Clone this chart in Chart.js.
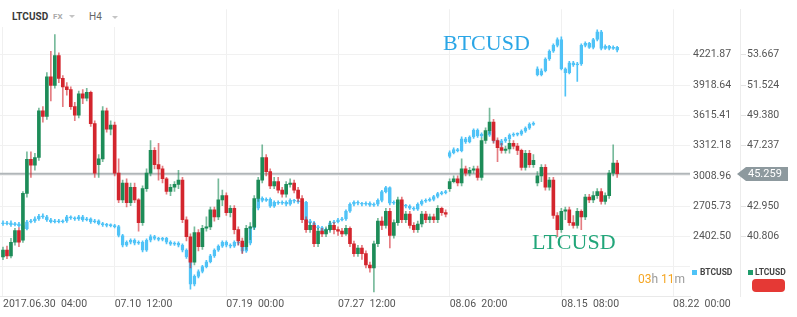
<!DOCTYPE html>
<html>
<head>
<meta charset="utf-8">
<script src="https://cdn.jsdelivr.net/npm/chart.js@4.4.1/dist/chart.umd.min.js"></script>
<style>
  html, body { margin: 0; padding: 0; background: #fff; }
  #wrap { position: relative; width: 797px; height: 317px; overflow: hidden; font-family: Roboto, sans-serif; }
  canvas { position: absolute; left: 0; top: 0; }
  .abs { position: absolute; white-space: nowrap; }
  .tri { position: absolute; width: 0; height: 0; border-left: 3px solid transparent; border-right: 3px solid transparent; border-top: 3px solid #c4c4c4; }
  .big { font-family: "Liberation Serif", serif; font-size: 22px; line-height: 22px; }
  .leg { font: bold 8.5px/10px Roboto; color: #444; }
  .sq { position: absolute; width: 5px; height: 5px; }
</style>
</head>
<body>
<div id="wrap">
  <canvas id="chart" width="797" height="317"></canvas>

  <div class="abs" style="left:0;top:0;width:130px;height:27px;background:#fff"></div>
  <div class="abs" style="left:12px;top:10px;font:bold 10px/13px Roboto;color:#3a3a3a">LTCUSD</div>
  <div class="abs" style="left:53px;top:11px;font:bold 8px/12px Roboto;color:#aaa">FX</div>
  <div class="tri" style="left:69px;top:15px"></div>
  <div class="abs" style="left:89px;top:10px;font:10px/13px Roboto;color:#666">H4</div>
  <div class="tri" style="left:112px;top:16px"></div>

  <div class="abs big" style="left:443px;top:32px;color:#2ba6e6">BTCUSD</div>
  <div class="abs big" style="left:532px;top:231px;color:#22a67a">LTCUSD</div>

  <div class="abs" style="left:638px;top:272px;font:12px/14px Roboto;color:#9a9a9a"><span style="color:#f5a623">03</span>h <span style="color:#f5a623">11</span>m</div>

  <div class="sq" style="left:692px;top:270px;background:#4fc3f7"></div>
  <div class="abs leg" style="left:700px;top:267px">BTCUSD</div>
  <div class="sq" style="left:748px;top:270px;background:#1f9d6c"></div>
  <div class="abs leg" style="left:755px;top:267px">LTCUSD</div>
  <div class="abs" style="left:752px;top:279px;width:33px;height:13px;border-radius:4px;background:#e53935"></div>
</div>

<script>
// x axis: candle index, tick labels every 28 candles
const xTickIdx = [0, 28, 56, 84, 112, 140, 168];
const xLabels = ['2017.06.30  04:00', '07.10  12:00', '07.19  00:00', '07.27  12:00', '08.06  20:00', '08.15  08:00', '08.22  00:00'];

const btcTicks = [2402.50, 2705.73, 3008.96, 3312.18, 3615.41, 3918.64, 4221.87];
const btcGridOnly = [2099.27];
const ltcTicks = [40.806, 42.950, 45.094, 47.237, 49.380, 51.524, 53.667];

// LTCUSD H4 candles
const ltcOpen = [
  39.38, 39.86, 39.45, 40.41, 41.24, 40.55, 43.86, 46.27, 45.85, 46.4,
  49.7, 49.3, 52.1, 51.5, 53.6, 52.0, 51.4, 51.2, 50.0, 49.4,
  50.9, 50.6, 51.0, 48.8, 45.9, 46.3, 49.7, 48.4, 48.7, 45.3,
  43.4, 44.6, 43.2, 44.3, 43.4, 41.8, 44.2, 45.3, 46.9, 45.9,
  45.6, 44.9, 44.0, 44.3, 44.5, 44.8, 42.0, 40.8, 39.0, 41.1,
  40.1, 41.4, 41.5, 42.7, 42.2, 43.4, 43.7, 42.5, 42.8, 41.3,
  40.5, 40.1, 41.4, 41.5, 43.5, 44.8, 46.4, 45.4, 44.4, 44.7,
  44.1, 43.8, 44.5, 44.6, 44.1, 43.5, 42.0, 41.3, 41.6, 40.3,
  41.2, 41.0, 41.3, 41.6, 41.3, 41.2, 41.0, 41.4, 40.3, 39.6,
  40.0, 39.6, 38.8, 38.6, 40.3, 41.9, 41.6, 42.6, 40.9, 41.8,
  43.4, 42.0, 42.4, 41.6, 41.3, 41.7, 42.4, 42.0, 42.2, 42.0,
  42.8, 42.5, 44.2, 44.7, 44.9, 44.6, 45.6, 45.3, 45.5, 45.6,
  45.0, 47.6, 48.3, 48.9, 47.6, 47.1, 46.9, 47.0, 47.4, 47.2,
  46.9, 45.7, 46.7, 45.9, 44.6, 45.1, 45.7, 44.3, 44.8, 42.3,
  41.3, 42.6, 42.7, 41.8, 41.6, 42.6, 42.2, 43.6, 43.4, 43.7,
  44.0, 43.3, 43.7, 45.3, 46.0
];
const ltcHigh = [
  40.07, 40.14, 40.69, 41.4, 41.45, 44.0, 46.8, 46.8, 46.7, 49.9,
  50.0, 52.4, 53.9, 55.1, 53.8, 52.2, 51.7, 51.4, 50.3, 51.1,
  51.2, 51.3, 51.1, 49.0, 46.6, 50.0, 49.9, 49.0, 48.9, 46.3,
  44.8, 44.9, 44.6, 44.6, 43.5, 44.4, 45.6, 47.6, 47.1, 47.4,
  45.8, 45.0, 44.5, 44.7, 45.5, 45.0, 42.2, 41.0, 41.5, 41.3,
  41.6, 42.2, 42.9, 42.9, 44.9, 44.1, 43.9, 43.0, 43.0, 41.5,
  40.7, 41.6, 41.8, 43.7, 45.0, 47.3, 46.6, 45.6, 45.0, 45.0,
  44.3, 44.7, 44.9, 44.8, 44.3, 43.7, 42.2, 41.8, 41.8, 41.4,
  41.4, 41.5, 41.9, 41.8, 41.5, 41.4, 41.6, 41.5, 40.5, 40.2,
  40.2, 39.8, 39.0, 40.5, 42.1, 42.2, 42.8, 42.8, 42.0, 43.6,
  43.6, 42.6, 42.6, 41.8, 41.9, 42.6, 42.6, 42.4, 42.4, 43.0,
  42.9, 42.7, 44.9, 45.1, 45.1, 46.3, 45.8, 45.7, 45.8, 45.8,
  47.8, 48.5, 49.9, 49.1, 47.8, 47.4, 47.2, 47.6, 47.6, 47.4,
  47.0, 46.9, 46.9, 46.6, 45.4, 45.9, 45.9, 45.0, 45.0, 42.5,
  42.8, 42.9, 42.9, 42.3, 42.8, 42.7, 43.8, 43.8, 44.0, 44.2,
  44.2, 43.9, 45.5, 47.3, 46.2
];
const ltcLow = [
  39.17, 39.24, 39.3, 40.2, 40.1, 40.4, 43.6, 45.0, 45.5, 46.2,
  48.9, 49.1, 50.4, 51.3, 51.7, 50.0, 50.8, 49.8, 49.0, 49.2,
  50.2, 50.4, 48.6, 45.0, 45.0, 46.1, 48.2, 48.0, 45.1, 43.2,
  43.2, 42.9, 43.0, 43.2, 41.2, 41.6, 44.0, 45.1, 45.6, 44.8,
  44.6, 43.8, 43.7, 44.0, 44.2, 41.8, 40.5, 38.6, 38.8, 39.8,
  39.9, 41.2, 41.3, 41.9, 42.0, 43.0, 42.3, 42.2, 41.0, 40.2,
  39.6, 39.9, 40.6, 41.3, 43.3, 44.6, 45.1, 44.2, 44.2, 43.9,
  43.6, 43.6, 44.3, 43.9, 43.3, 41.8, 41.1, 41.1, 40.1, 40.1,
  40.8, 40.8, 41.1, 41.0, 40.9, 40.8, 40.9, 40.1, 39.4, 39.4,
  39.2, 38.6, 38.3, 36.9, 40.1, 41.3, 41.4, 40.0, 40.7, 41.6,
  41.8, 41.8, 41.4, 41.1, 41.1, 41.5, 41.8, 41.8, 41.8, 41.8,
  42.3, 42.2, 44.0, 44.6, 44.4, 44.4, 45.1, 45.1, 45.3, 44.8,
  44.8, 47.4, 48.1, 47.4, 46.1, 46.7, 46.7, 46.7, 47.0, 46.6,
  45.5, 45.5, 45.7, 45.7, 44.4, 44.7, 44.1, 44.1, 42.1, 40.8,
  41.1, 42.0, 41.6, 41.4, 41.4, 41.3, 42.0, 43.2, 43.2, 43.5,
  43.1, 43.1, 43.5, 45.1, 45.0
];
const ltcClose = [
  39.86, 39.45, 40.41, 41.24, 40.41, 43.86, 46.27, 45.85, 46.4, 49.7,
  49.3, 52.1, 51.5, 53.6, 52.0, 51.4, 51.2, 50.0, 49.4, 50.9,
  50.6, 51.0, 48.8, 45.3, 46.3, 49.7, 48.4, 48.7, 45.3, 43.4,
  44.6, 43.2, 44.3, 43.4, 41.8, 44.2, 45.3, 46.9, 45.9, 45.6,
  44.9, 44.0, 44.3, 44.5, 44.8, 42.0, 40.8, 39.0, 41.1, 40.1,
  41.4, 41.5, 42.7, 42.2, 43.4, 43.7, 42.5, 42.8, 41.3, 40.5,
  40.1, 41.4, 41.5, 43.5, 44.8, 46.4, 45.4, 44.4, 44.7, 44.1,
  43.8, 44.5, 44.6, 44.1, 43.5, 42.0, 41.3, 41.6, 40.3, 41.2,
  41.0, 41.3, 41.6, 41.3, 41.2, 41.0, 41.4, 40.3, 39.6, 40.0,
  39.6, 38.8, 38.6, 40.3, 41.9, 41.6, 42.6, 40.9, 41.8, 43.4,
  42.0, 42.4, 41.6, 41.3, 41.7, 42.4, 42.0, 42.2, 42.0, 42.8,
  42.5, 42.4, 44.7, 44.9, 44.6, 45.6, 45.3, 45.5, 45.6, 45.0,
  47.6, 48.3, 48.9, 47.6, 47.1, 46.9, 47.0, 47.4, 47.2, 46.9,
  45.7, 46.7, 45.9, 46.2, 45.1, 45.7, 44.3, 44.8, 42.3, 41.3,
  42.6, 42.7, 41.8, 41.6, 42.6, 42.2, 43.6, 43.4, 43.7, 44.0,
  43.3, 43.7, 45.3, 46.0, 45.259
];

// BTCUSD H4 candles
const btcOpen = [
  2541, 2531, 2541, 2522, 2531, 2512, 2482, 2551, 2560, 2580,
  2609, 2600, 2570, 2551, 2560, 2551, 2560, 2600, 2590, 2580,
  2600, 2570, 2580, 2551, 2560, 2531, 2522, 2515, 2512, 2502,
  2414, 2317, 2346, 2366, 2336, 2346, 2268, 2366, 2404, 2385,
  2375, 2385, 2346, 2327, 2336, 2317, 2268, 2200, 1927, 2005,
  2054, 2102, 2151, 2210, 2268, 2307, 2346, 2317, 2307, 2346,
  2336, 2258, 2336, 2492, 2687, 2785, 2765, 2775, 2707, 2746,
  2736, 2746, 2726, 2765, 2756, 2750, 2746, 2560, 2541, 2502,
  2492, 2463, 2473, 2541, 2551, 2570, 2580, 2658, 2726, 2746,
  2736, 2726, 2736, 2717, 2726, 2765, 2853, 2892, 2736, 2746,
  2726, 2717, 2707, 2687, 2678, 2726, 2756, 2765, 2775, 2804,
  2833, 2843, 3204, 3243, 3272, 3263, 3380, 3350, 3399, 3467,
  3409, 3428, 3418, 3457, 3360, 3321, 3360, 3380, 3418, 3425,
  3428, 3457, 3487, 3526, 4082, 4023, 4062, 4179, 4257, 4316,
  4374, 4082, 4043, 4140, 4121, 4130, 4316, 4335, 4296, 4374,
  4452, 4286, 4306, 4286, 4296
];
const btcHigh = [
  2560, 2555, 2560, 2545, 2545, 2525, 2565, 2575, 2600, 2625,
  2630, 2615, 2585, 2575, 2575, 2570, 2615, 2610, 2600, 2615,
  2615, 2595, 2590, 2575, 2570, 2545, 2535, 2530, 2525, 2515,
  2425, 2360, 2380, 2380, 2360, 2360, 2380, 2420, 2415, 2395,
  2395, 2395, 2360, 2350, 2350, 2330, 2280, 2210, 2020, 2070,
  2115, 2165, 2225, 2280, 2320, 2360, 2360, 2330, 2360, 2360,
  2345, 2350, 2505, 2700, 2800, 2800, 2790, 2790, 2760, 2760,
  2760, 2760, 2780, 2775, 2770, 2765, 2755, 2575, 2555, 2515,
  2505, 2485, 2555, 2565, 2585, 2595, 2670, 2740, 2760, 2760,
  2745, 2750, 2750, 2740, 2780, 2865, 2905, 2900, 2760, 2760,
  2740, 2725, 2720, 2700, 2740, 2770, 2780, 2790, 2815, 2845,
  2855, 2865, 3260, 3290, 3285, 3400, 3395, 3410, 3480, 3480,
  3440, 3440, 3470, 3470, 3370, 3375, 3395, 3430, 3440, 3440,
  3470, 3500, 3540, 3550, 4100, 4080, 4190, 4270, 4330, 4390,
  4400, 4090, 4155, 4155, 4145, 4330, 4350, 4345, 4385, 4470,
  4465, 4320, 4315, 4310, 4305
];
const btcLow = [
  2515, 2520, 2505, 2510, 2500, 2470, 2470, 2540, 2545, 2565,
  2585, 2555, 2540, 2540, 2540, 2540, 2545, 2575, 2565, 2565,
  2555, 2560, 2535, 2540, 2520, 2505, 2500, 2500, 2490, 2400,
  2300, 2305, 2330, 2320, 2325, 2250, 2255, 2350, 2370, 2360,
  2360, 2330, 2315, 2315, 2300, 2250, 2185, 1878, 1910, 1990,
  2040, 2090, 2140, 2195, 2255, 2295, 2300, 2290, 2295, 2320,
  2240, 2245, 2320, 2475, 2670, 2750, 2755, 2695, 2695, 2725,
  2725, 2710, 2715, 2740, 2735, 2730, 2545, 2525, 2490, 2475,
  2450, 2455, 2460, 2530, 2540, 2560, 2565, 2645, 2710, 2720,
  2710, 2715, 2705, 2705, 2710, 2750, 2840, 2720, 2725, 2715,
  2700, 2690, 2675, 2665, 2665, 2715, 2745, 2755, 2760, 2790,
  2820, 2830, 3190, 3230, 3250, 3250, 3335, 3340, 3385, 3395,
  3395, 3405, 3405, 3345, 3300, 3305, 3345, 3365, 3405, 3410,
  3415, 3445, 3475, 3515, 4010, 4010, 4050, 4165, 4245, 4300,
  4070, 3808, 4030, 4105, 3955, 4115, 4300, 4285, 4280, 4360,
  4270, 4275, 4270, 4275, 4250
];
const btcClose = [
  2531, 2541, 2522, 2531, 2512, 2482, 2551, 2560, 2580, 2609,
  2600, 2570, 2551, 2560, 2551, 2560, 2600, 2590, 2580, 2600,
  2570, 2580, 2551, 2560, 2531, 2522, 2515, 2512, 2502, 2414,
  2317, 2346, 2366, 2336, 2346, 2268, 2366, 2404, 2385, 2375,
  2385, 2346, 2327, 2336, 2317, 2268, 2200, 1927, 2005, 2054,
  2102, 2151, 2210, 2268, 2307, 2346, 2317, 2307, 2346, 2336,
  2258, 2336, 2492, 2687, 2785, 2765, 2775, 2707, 2746, 2736,
  2746, 2726, 2765, 2756, 2750, 2746, 2560, 2541, 2502, 2492,
  2463, 2473, 2541, 2551, 2570, 2580, 2658, 2726, 2746, 2736,
  2726, 2736, 2717, 2726, 2765, 2853, 2892, 2736, 2746, 2726,
  2717, 2707, 2687, 2678, 2726, 2756, 2765, 2775, 2804, 2833,
  2843, 2853, 3243, 3272, 3263, 3380, 3350, 3399, 3467, 3409,
  3428, 3418, 3457, 3360, 3321, 3360, 3380, 3418, 3425, 3428,
  3457, 3487, 3526, 3536, 4023, 4062, 4179, 4257, 4316, 4374,
  4082, 4043, 4140, 4121, 4130, 4316, 4335, 4296, 4374, 4452,
  4286, 4306, 4286, 4296, 4267
];

const lastPrice = ltcClose[ltcClose.length - 1];

const GREEN = '#1d8c58';
const RED = '#d3252d';
const GREEN_WICK = 'rgba(29,140,88,0.6)';
const RED_WICK = 'rgba(211,37,45,0.6)';
const BLUE = '#4fc3f7';

const ltcUp = ltcClose.map((c, i) => c >= ltcOpen[i]);

// price line under the candles, price tag on the right axis
const priceLine = {
  id: 'priceLine',
  beforeDatasetsDraw(chart) {
    const { ctx, chartArea, scales } = chart;
    const y = scales.ltc.getPixelForValue(lastPrice);
    ctx.save();
    ctx.strokeStyle = '#b1b6b9';
    ctx.lineWidth = 2;
    ctx.beginPath();
    ctx.moveTo(chartArea.left, y);
    ctx.lineTo(chartArea.right, y);
    ctx.stroke();
    ctx.restore();
  },
  afterDraw(chart) {
    const { ctx, scales } = chart;
    const y = Math.round(scales.ltc.getPixelForValue(lastPrice));
    const x0 = scales.ltc.left;
    ctx.save();
    ctx.fillStyle = '#8d999e';
    ctx.beginPath();
    ctx.moveTo(x0 - 3, y);
    ctx.lineTo(x0 + 6, y - 7);
    ctx.lineTo(x0 + 48, y - 7);
    ctx.lineTo(x0 + 48, y + 7);
    ctx.lineTo(x0 + 6, y + 7);
    ctx.closePath();
    ctx.fill();
    ctx.fillStyle = '#fff';
    ctx.font = '11px Roboto';
    ctx.textBaseline = 'middle';
    ctx.fillText(lastPrice.toFixed(3), x0 + 8, y + 0.5);
    ctx.restore();
  }
};

Chart.defaults.font.family = 'Roboto';
Chart.defaults.font.size = 10.5;
Chart.defaults.color = '#555';

new Chart(document.getElementById('chart'), {
  type: 'bar',
  data: {
    datasets: [
      {
        data: ltcClose.map((c, i) => ({ x: i, y: [ltcOpen[i], c] })),
        yAxisID: 'ltc',
        backgroundColor: ltcUp.map(u => u ? GREEN : RED),
        barThickness: 3,
        minBarLength: 1,
        grouped: false
      },
      {
        data: ltcClose.map((c, i) => ({ x: i, y: [ltcLow[i], ltcHigh[i]] })),
        yAxisID: 'ltc',
        backgroundColor: ltcUp.map(u => u ? GREEN_WICK : RED_WICK),
        barThickness: 1,
        grouped: false
      },
      {
        data: btcClose.map((c, i) => ({ x: i, y: [btcOpen[i], c] })),
        yAxisID: 'btc',
        backgroundColor: 'rgba(79,195,247,0.35)',
        borderColor: BLUE,
        borderWidth: 1,
        borderSkipped: false,
        barThickness: 3,
        minBarLength: 1,
        grouped: false
      },
      {
        data: btcClose.map((c, i) => ({ x: i, y: [btcLow[i], btcHigh[i]] })),
        yAxisID: 'btc',
        backgroundColor: BLUE,
        barThickness: 1,
        grouped: false
      }
    ]
  },
  options: {
    responsive: false,
    animation: false,
    layout: { padding: 0 },
    plugins: { legend: { display: false }, tooltip: { enabled: false } },
    scales: {
      x: {
        type: 'linear',
        min: -0.75,
        max: 172.26,
        offset: false,
        bounds: 'data',
        afterFit: s => { s.height = 21; },
        afterBuildTicks: s => { s.ticks = xTickIdx.map(v => ({ value: v })); },
        grid: { color: '#f0f0f0', drawTicks: false, offset: false },
        border: { color: '#e9e9e9' },
        ticks: {
          align: 'start',
          autoSkip: false,
          maxRotation: 0,
          padding: 2,
          color: '#555',
          callback: v => xLabels[xTickIdx.indexOf(v)]
        }
      },
      btc: {
        type: 'linear',
        position: 'right',
        weight: 0,
        min: 1808.6,
        max: 4676.2,
        bounds: 'data',
        afterFit: s => { s.width = 50; },
        afterBuildTicks: s => { s.ticks = btcGridOnly.concat(btcTicks).map(v => ({ value: v })); },
        grid: { color: '#f1f1f1', drawTicks: false },
        border: { display: false },
        ticks: {
          autoSkip: false,
          padding: 3,
          color: '#555',
          callback: v => btcTicks.includes(v) ? v.toFixed(2) : ''
        }
      },
      ltc: {
        type: 'linear',
        position: 'right',
        weight: 1,
        min: 36.609,
        max: 56.879,
        bounds: 'data',
        afterFit: s => { s.width = 57; },
        afterBuildTicks: s => { s.ticks = ltcTicks.map(v => ({ value: v })); },
        grid: { drawOnChartArea: false, color: '#e3e3e3', tickLength: 6 },
        border: { display: true, color: '#ececec' },
        ticks: {
          autoSkip: false,
          padding: 1,
          color: '#555',
          callback: v => v.toFixed(3)
        }
      }
    }
  },
  plugins: [priceLine]
});
</script>
</body>
</html>
